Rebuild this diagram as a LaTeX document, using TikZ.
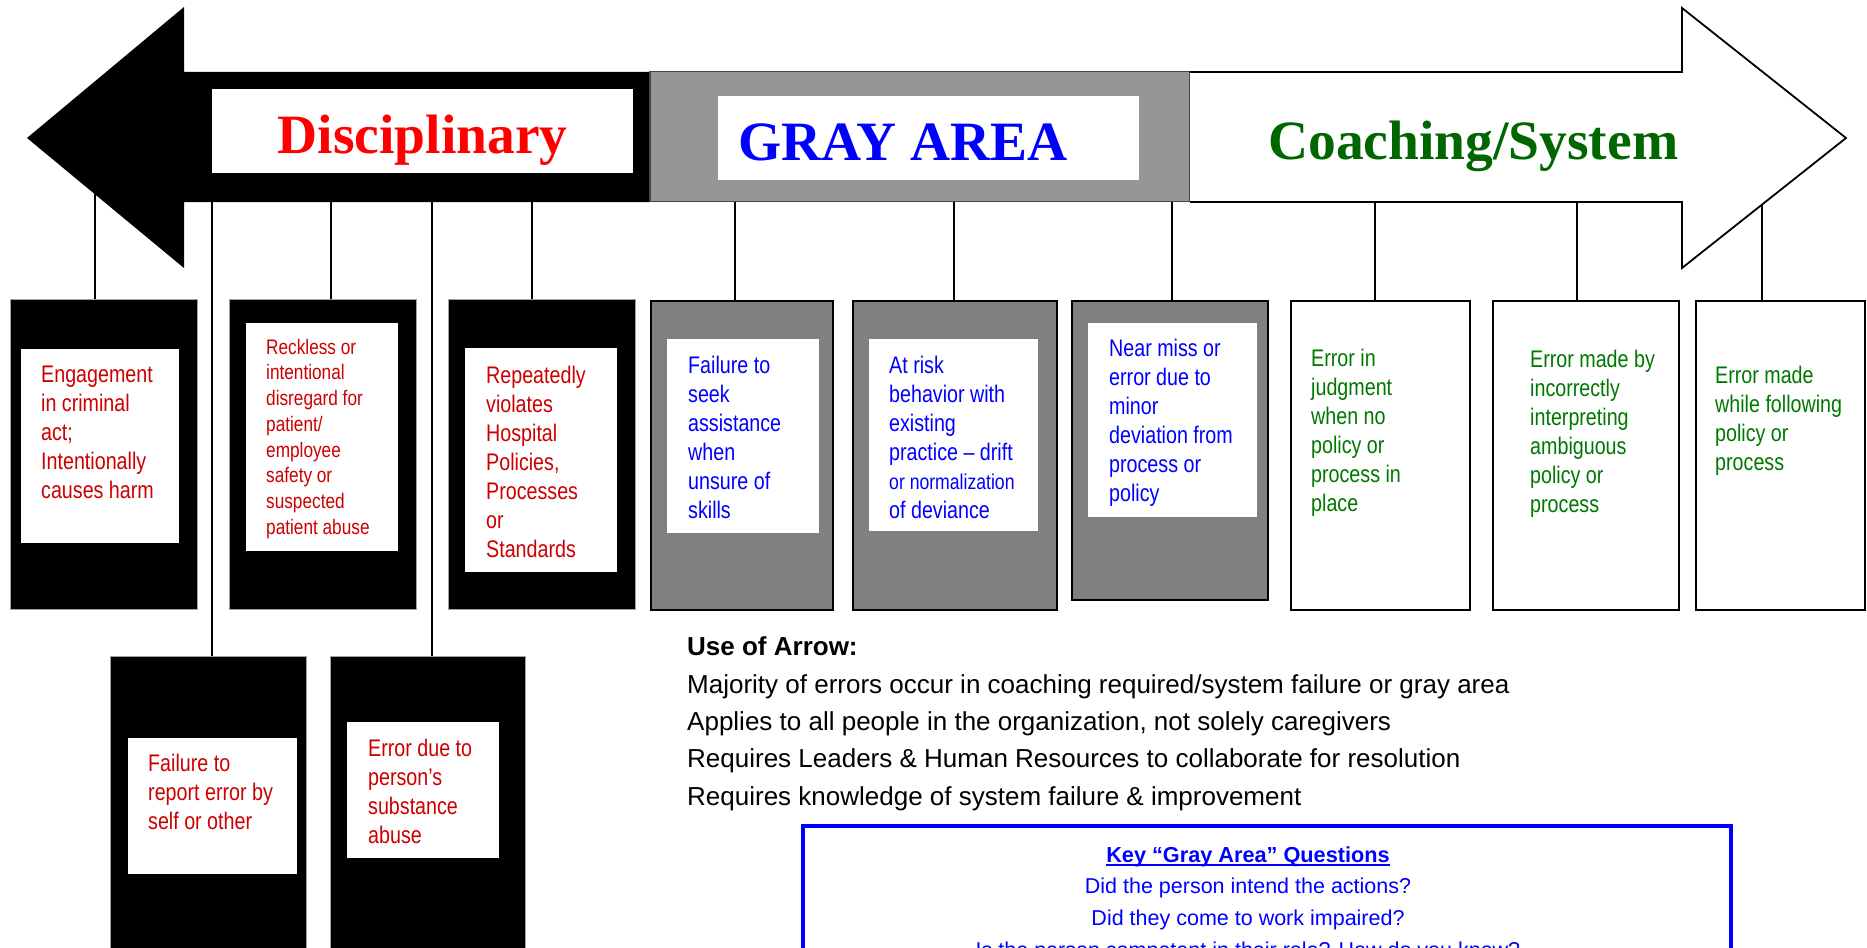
\documentclass[tikz,border=0pt]{standalone}
\usepackage{fontspec}
\setmainfont{Liberation Serif}
\newfontfamily\arial{Liberation Sans}
\newfontfamily\arialN[FakeStretch=0.82]{Liberation Sans}
\definecolor{redtxt}{RGB}{204,0,0}
\definecolor{bluetxt}{RGB}{0,0,255}
\definecolor{greentxt}{RGB}{0,120,0}
\definecolor{titlegreen}{RGB}{0,102,0}
\definecolor{bandgray}{RGB}{150,150,150}
\definecolor{boxgray}{RGB}{128,128,128}
\definecolor{edgegray}{RGB}{160,160,160}
\newcommand{\fstrut}{\rule{0pt}{20pt}}
\begin{document}
\begin{tikzpicture}[x=1pt,y=-1pt,
  blackbox/.style={fill=black, draw=edgegray, line width=0.8pt, anchor=north west, inner sep=0},
  graybox/.style={fill=boxgray, draw=black, line width=2pt, anchor=north west, inner sep=0},
  whitebox/.style={fill=white, draw=black, line width=2pt, anchor=north west, inner sep=0},
  innerbox/.style={fill=white, anchor=north west, inner sep=0},
  boxtext/.style={anchor=north west, inner sep=0, align=left, font={\arialN\fontsize{24}{29}\selectfont}},
  title/.style={inner sep=0, font={\bfseries\fontsize{55.5}{60}\selectfont}},
  conn/.style={draw=black, line width=1.5pt},
  question/.style={anchor=base, inner sep=0, text=bluetxt, font={\arial\fontsize{21.5}{26}\selectfont}}
]
\useasboundingbox (0,0) rectangle (1867,947);
\clip (0,0) rectangle (1867,947);
\fill[white] (0,0) rectangle (1867,947);

% ---------- big arrow ----------
\fill[black] (27,138) -- (184,7) -- (184,72) -- (650,72) -- (650,202) -- (184,202) -- (184,268) -- cycle;
\filldraw[fill=bandgray, draw={rgb,255:red,70;green,70;blue,70}, line width=1.2pt] (650,71.5) rectangle (1190,201.5);
\filldraw[fill=white, draw=black, line width=1.8pt] (1190,72) -- (1682,72) -- (1682,8) -- (1846,138) -- (1682,268) -- (1682,202) -- (1190,202);

\node[innerbox, minimum width=421pt, minimum height=84pt] (dbox) at (212,89) {};
\node[title, anchor=base, text=red] (disc) at (422.5,153) {Disciplinary};
\node[innerbox, minimum width=421pt, minimum height=84pt] (gbox) at (718,96) {};
\node[title, anchor=base west, text=blue] (gray) at (738,160) {GRAY AREA};
\node[title, anchor=base west, text=titlegreen] (coach) at (1268,159) {Coaching/System};

% ---------- connector start points ----------
\coordinate (c1) at (95,194);
\coordinate (c2) at (212,202);
\coordinate (c3) at (331,202);
\coordinate (c4) at (432,202);
\coordinate (c5) at (532,202);
\coordinate (c6) at (735,201.5);
\coordinate (c7) at (954,201.5);
\coordinate (c8) at (1172,201.5);
\coordinate (c9) at (1375,202);
\coordinate (c10) at (1577,202);
\coordinate (c11) at (1762,204.5);

% ---------- boxes ----------
\node[blackbox, minimum width=187pt, minimum height=310pt] (b1) at (9.5,299) {};
\node[blackbox, minimum width=187pt, minimum height=310pt] (b2) at (229,299) {};
\node[blackbox, minimum width=187pt, minimum height=310pt] (b3) at (448,299) {};
\node[graybox, minimum width=182pt, minimum height=309pt] (b4) at (650,300) {};
\node[graybox, minimum width=204pt, minimum height=309pt] (b5) at (852,300) {};
\node[graybox, minimum width=196pt, minimum height=299pt] (b6) at (1071,300) {};
\node[whitebox, minimum width=179pt, minimum height=309pt] (b7) at (1290,300) {};
\node[whitebox, minimum width=186pt, minimum height=309pt] (b8) at (1492,300) {};
\node[whitebox, minimum width=169pt, minimum height=309pt] (b9) at (1695,300) {};
\node[blackbox, minimum width=196pt, minimum height=320pt] (b10) at (110,656) {};
\node[blackbox, minimum width=195pt, minimum height=320pt] (b11) at (330,656) {};

\node[innerbox, minimum width=158pt, minimum height=194pt] (i1) at (21,349) {};
\node[innerbox, minimum width=152pt, minimum height=228pt] (i2) at (246,323) {};
\node[innerbox, minimum width=152pt, minimum height=224pt] (i3) at (465,348) {};
\node[innerbox, minimum width=152pt, minimum height=194pt] (i4) at (667,339) {};
\node[innerbox, minimum width=169pt, minimum height=192pt] (i5) at (869,339) {};
\node[innerbox, minimum width=169pt, minimum height=194pt] (i6) at (1088,323) {};
\node[innerbox, minimum width=169pt, minimum height=136pt] (i10) at (128,738) {};
\node[innerbox, minimum width=152pt, minimum height=136pt] (i11) at (347,722) {};

% ---------- box texts (node top = first baseline - 20) ----------
\node[boxtext, text=redtxt] (t1) at (41,362) {\fstrut Engagement\\in criminal\\act;\\Intentionally\\causes harm};
\node[boxtext, text=redtxt, font={\arialN\fontsize{21}{25.7}\selectfont}] (t2) at (266,334) {\fstrut Reckless or\\intentional\\disregard for\\patient/\\employee\\safety or\\suspected\\patient abuse};
\node[boxtext, text=redtxt] (t3) at (486,363) {\fstrut Repeatedly\\violates\\Hospital\\Policies,\\Processes\\or\\Standards};
\node[boxtext, text=bluetxt] (t4) at (688,353) {\fstrut Failure to\\seek\\assistance\\when\\unsure of\\skills};
\node[boxtext, text=bluetxt] (t5) at (889,353) {\fstrut At risk\\behavior with\\existing\\practice – drift\\{\fontsize{21.5}{29}\selectfont or normalization}\\of deviance};
\node[boxtext, text=bluetxt] (t6) at (1109,336) {\fstrut Near miss or\\error due to\\minor\\deviation from\\process or\\policy};
\node[boxtext, text=greentxt] (t7) at (1311,346) {\fstrut Error in\\judgment\\when no\\policy or\\process in\\place};
\node[boxtext, text=greentxt] (t8) at (1530,347) {\fstrut Error made by\\incorrectly\\interpreting\\ambiguous\\policy or\\process};
\node[boxtext, text=greentxt] (t9) at (1715,363) {\fstrut Error made\\while following\\policy or\\process};
\node[boxtext, text=redtxt] (t10) at (148,751) {\fstrut Failure to\\report error by\\self or other};
\node[boxtext, text=redtxt] (t11) at (368,736) {\fstrut Error due to\\person’s\\substance\\abuse};

% ---------- connectors ----------
\draw[conn] (c1) -- (c1 |- b1.north);
\draw[conn] (c2) -- (c2 |- b10.north);
\draw[conn] (c3) -- (c3 |- b2.north);
\draw[conn] (c4) -- (c4 |- b11.north);
\draw[conn] (c5) -- (c5 |- b3.north);
\draw[conn] (c6) -- (c6 |- b4.north);
\draw[conn] (c7) -- (c7 |- b5.north);
\draw[conn] (c8) -- (c8 |- b6.north);
\draw[conn] (c9) -- (c9 |- b7.north);
\draw[conn] (c10) -- (c10 |- b8.north);
\draw[conn] (c11) -- (c11 |- b9.north);

% ---------- use of arrow ----------
\node[anchor=north west, inner sep=0, align=left, font={\arial\fontsize{26}{37.3}\selectfont}] (use) at (687,635.7)
  {\fstrut\textbf{Use of Arrow:}\\Majority of errors occur in coaching required/system failure or gray area\\Applies to all people in the organization, not solely caregivers\\Requires Leaders \& Human Resources to collaborate for resolution\\Requires knowledge of system failure \& improvement};

% ---------- key questions ----------
\node[draw=blue, line width=3.5pt, fill=white, anchor=north west, minimum width=928pt, minimum height=200pt, inner sep=0] (kbox) at (801,824) {};
\node[question, font={\arial\bfseries\fontsize{21.7}{26}\selectfont}] (q0) at (1248,862) {Key “Gray Area” Questions};
\draw[blue, line width=1.4pt] ([yshift=-3pt]q0.base west) -- ([yshift=-3pt]q0.base east);
\node[question] (q1) at (1248,893) {Did the person intend the actions?};
\node[question] (q2) at (1248,925) {Did they come to work impaired?};
\node[question] (q3) at (1248,957) {Is the person competent in their role? How do you know?};
\end{tikzpicture}
\end{document}
